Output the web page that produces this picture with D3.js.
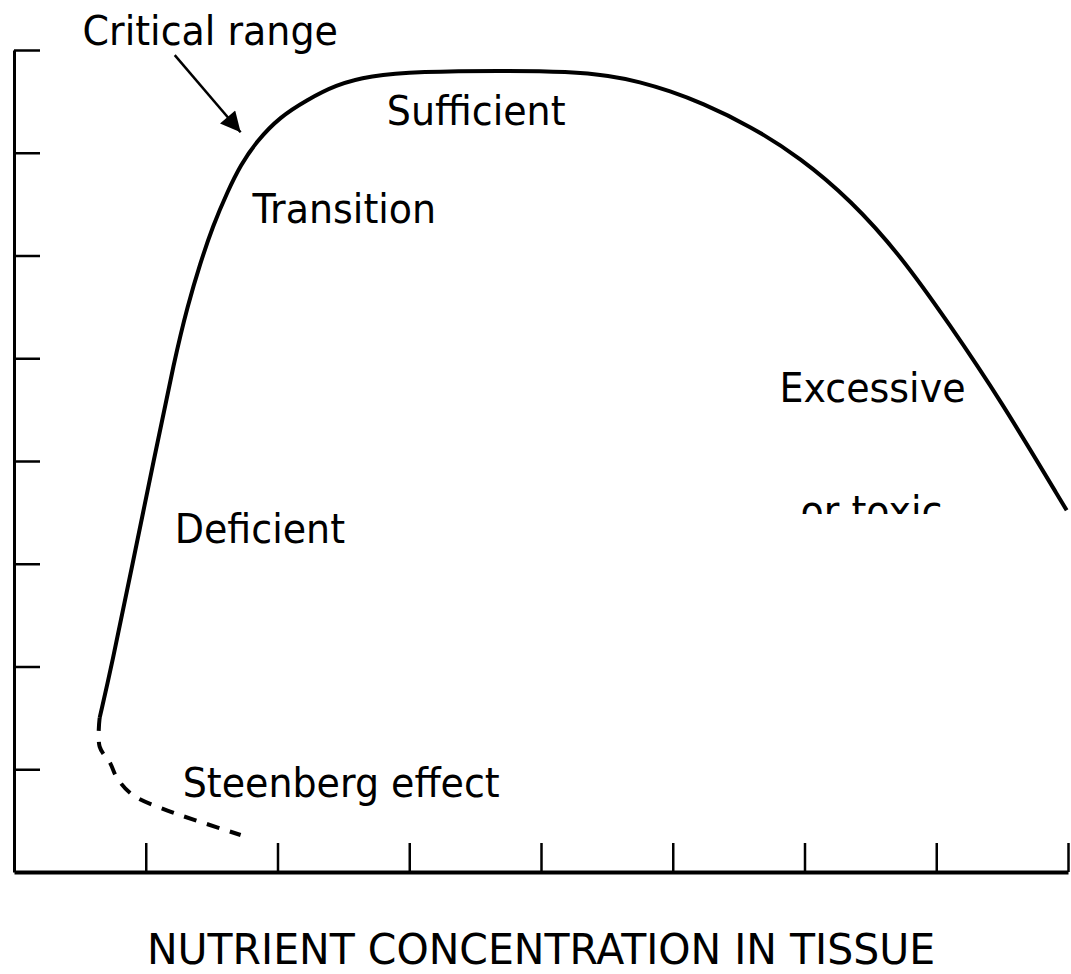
<!DOCTYPE html>
<html>
<head>
<meta charset="utf-8">
<script src="https://cdn.jsdelivr.net/npm/d3@7"></script>
<style>
    html, body { margin: 0; padding: 0; background: #fff; }
    svg { display: block; }
    .lbl { font-family: 'DejaVu Sans', Verdana, sans-serif; fill: #000; }
</style>
</head>
<body>
<svg id="chart" width="1071" height="974"></svg>
<script>
// 坐标轴刻度（任意单位）
const xTicks = [1, 2, 3, 4, 5, 6, 7, 8];
const yTicks = [1, 2, 3, 4, 5, 6, 7, 8];

// 产量曲线：营养浓度 -> 相对产量
const curveX = [0.65, 0.74, 0.90, 1.06, 1.22, 1.32, 1.41, 1.51, 1.62, 1.72, 1.84, 2.02, 2.22, 2.44, 2.70, 3.08, 3.69, 4.22, 4.52, 4.75, 4.98, 5.21, 5.59, 5.97, 6.35, 6.73, 7.10, 7.48, 7.99];
const curveY = [1.50, 2.00, 3.00, 4.00, 5.00, 5.52, 5.91, 6.29, 6.62, 6.88, 7.11, 7.35, 7.51, 7.66, 7.75, 7.79, 7.80, 7.79, 7.75, 7.69, 7.60, 7.49, 7.26, 6.95, 6.54, 6.00, 5.33, 4.61, 3.52];

// Steenberg effect（虚线部分）
const steenX = [0.65, 0.65, 0.73, 0.78, 0.90, 1.16, 1.41, 1.72];
const steenY = [1.50, 1.22, 1.06, 0.92, 0.75, 0.60, 0.49, 0.36];

// 标注文字
const labelText = ['Critical range', 'Sufficient', 'Transition', 'Deficient', 'Excessive', 'or toxic', 'Steenberg effect'];
const labelX = [0.52, 2.83, 1.81, 1.22, 5.81, 5.97, 1.28];
const labelY = [8.05, 7.27, 6.32, 3.20, 4.57, 3.38, 0.73];

// Critical range 箭头（起点 -> 终点）
const arrowX = [1.22, 1.72];
const arrowY = [7.95, 7.20];

const axisTitle = 'NUTRIENT CONCENTRATION IN TISSUE';

const svg = d3.select('#chart');
const plotLeft = 14, plotRight = 1068, plotTop = 50, plotBottom = 872;

const x = d3.scaleLinear().domain([0, 8]).range([plotLeft, plotRight]);
const y = d3.scaleLinear().domain([0, 8]).range([plotBottom, plotTop]);

const defs = svg.append('defs');
// 箭头 marker
defs.append('marker')
    .attr('id', 'arrowhead')
    .attr('viewBox', '0 0 10 10')
    .attr('refX', 10)
    .attr('refY', 5)
    .attr('markerUnits', 'userSpaceOnUse')
    .attr('markerWidth', 28)
    .attr('markerHeight', 20)
    .attr('orient', 'auto')
    .append('path')
    .attr('d', 'M0,0 L10,5 L0,10 Z')
    .attr('fill', '#000');

// "or toxic" 被截断的裁剪区域
defs.append('clipPath')
    .attr('id', 'toxicClip')
    .append('rect')
    .attr('x', 0)
    .attr('y', 0)
    .attr('width', 1071)
    .attr('height', 514);

// Y 轴
const yAxis = d3.axisLeft(y)
    .tickValues(yTicks)
    .tickSizeInner(-26)
    .tickSizeOuter(0)
    .tickFormat('');
const yG = svg.append('g')
    .attr('transform', `translate(${plotLeft}, 0)`)
    .call(yAxis);
yG.select('.domain').attr('stroke-width', 3);
yG.selectAll('.tick line').attr('stroke-width', 2.5);

// X 轴
const xAxis = d3.axisBottom(x)
    .tickValues(xTicks)
    .tickSizeInner(-29)
    .tickSizeOuter(0)
    .tickFormat('');
const xG = svg.append('g')
    .attr('transform', `translate(0, ${plotBottom})`)
    .call(xAxis);
xG.select('.domain').attr('stroke-width', 4);
xG.selectAll('.tick line').attr('stroke-width', 2.5);

// 主曲线
const line = d3.line()
    .x(d => x(d[0]))
    .y(d => y(d[1]))
    .curve(d3.curveBasis);

svg.append('path')
    .datum(d3.zip(curveX, curveY))
    .attr('d', line)
    .attr('fill', 'none')
    .attr('stroke', '#000')
    .attr('stroke-width', 4);

// Steenberg 虚线
const dashLine = d3.line()
    .x(d => x(d[0]))
    .y(d => y(d[1]))
    .curve(d3.curveCatmullRom.alpha(0.5));

svg.append('path')
    .datum(d3.zip(steenX, steenY))
    .attr('d', dashLine)
    .attr('fill', 'none')
    .attr('stroke', '#000')
    .attr('stroke-width', 4)
    .attr('stroke-dasharray', '13,11');

// 箭头
svg.append('line')
    .attr('x1', x(arrowX[0]))
    .attr('y1', y(arrowY[0]))
    .attr('x2', x(arrowX[1]))
    .attr('y2', y(arrowY[1]))
    .attr('stroke', '#000')
    .attr('stroke-width', 2.5)
    .attr('marker-end', 'url(#arrowhead)');

// 标注文字
labelText.forEach((t, i) => {
    const g = svg.append('g');
    if (t === 'or toxic') g.attr('clip-path', 'url(#toxicClip)');
    g.append('text')
        .attr('class', 'lbl')
        .attr('transform', `translate(${x(labelX[i])}, ${y(labelY[i])}) scale(1, 1.08)`)
        .style('font-size', '38px')
        .text(t);
});

// X 轴标题
svg.append('text')
    .attr('class', 'lbl')
    .attr('text-anchor', 'middle')
    .attr('transform', `translate(${(plotLeft + plotRight) / 2}, 964) scale(1, 1.06)`)
    .style('font-size', '41px')
    .text(axisTitle);
</script>
</body>
</html>
